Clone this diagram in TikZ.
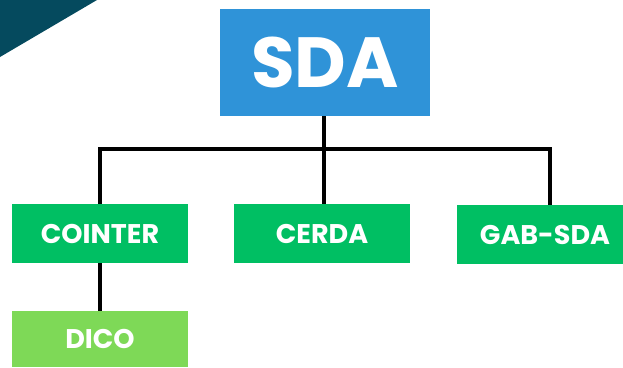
\documentclass[tikz,border=0pt]{standalone}
\usepackage{fontspec}
\setmainfont{Poppins}
\usetikzlibrary{positioning}

\definecolor{sdablue}{HTML}{2F93D8}
\definecolor{unitgreen}{HTML}{00BF63}
\definecolor{subgreen}{HTML}{7ED957}
\definecolor{cornerteal}{HTML}{054A5E}

\begin{document}
\begin{tikzpicture}[x=1pt, y=-1pt,
    unit/.style={fill=unitgreen, minimum width=176pt, minimum height=59pt, inner sep=0pt,
      text=white, font=\bfseries\fontsize{27}{27}\selectfont},
    link/.style={line width=4pt}]
    \useasboundingbox (0,0) rectangle (623,367);
    % corner decoration
    \fill[cornerteal] (0,0) -- (97,0) -- (0,57) -- cycle;

    \node[fill=sdablue, minimum width=210pt, minimum height=107pt, inner sep=0pt,
      text=white, font=\bfseries\fontsize{71}{71}\selectfont] (sda) at (325,62.5) {SDA};
    \node[unit] (cointer) at (100,233.5) {COINTER};
    \node[unit] (cerda) at (322,233.5) {CERDA};
    \node[unit] (gab) at (545,234.5) {GAB-SDA};
    \node[unit, fill=subgreen, minimum height=56pt] (dico) at (100,339) {DICO};

    % tree lines
    \coordinate (bus) at (324,149);
    \draw[link] (sda.south -| bus) -- (bus);
    \draw[link] (cointer.north) |- (bus) -| ([xshift=5pt]gab.north);
    \draw[link] (bus) -- (bus |- cerda.north);
    \draw[link] (cointer) -- (dico);
  \end{tikzpicture}
\end{document}
